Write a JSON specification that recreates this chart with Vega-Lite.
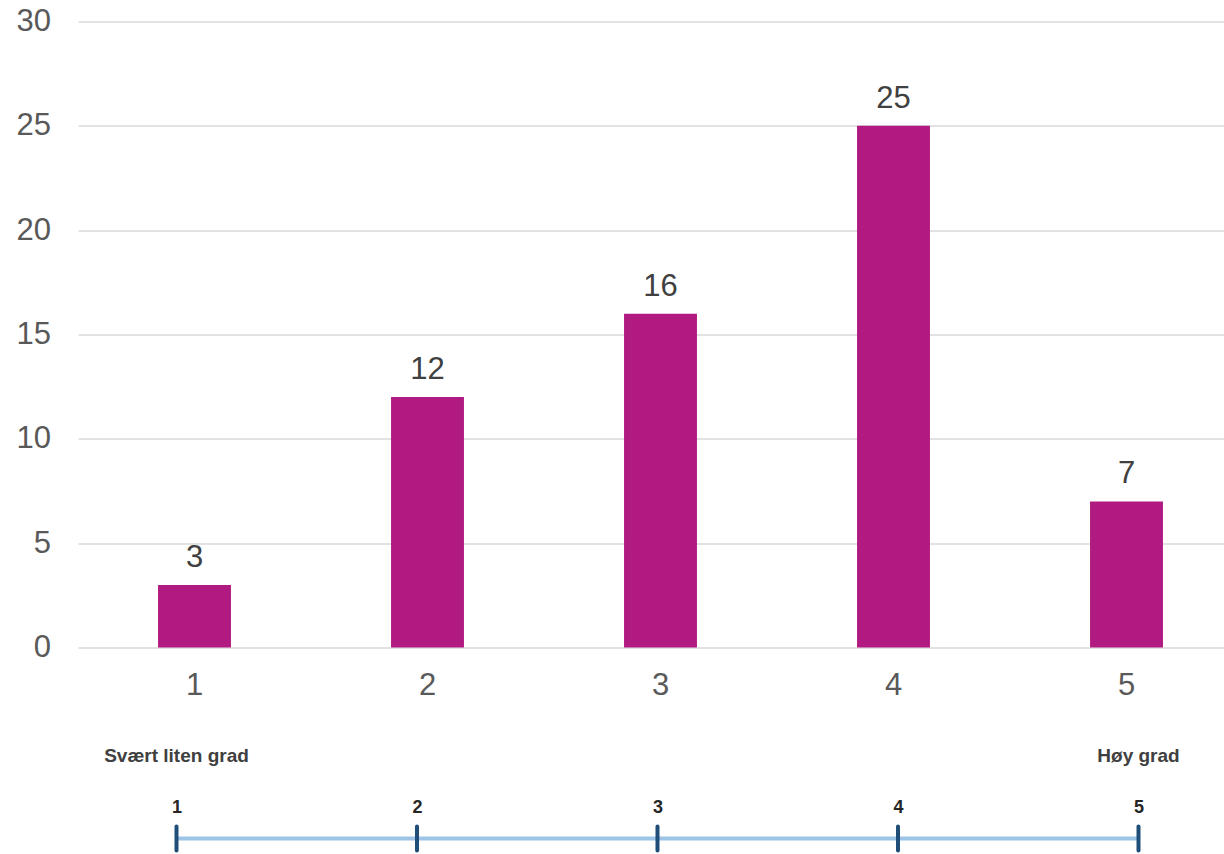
{
  "$schema": "https://vega.github.io/schema/vega-lite/v6.json",
  "padding": {"left": 16, "top": 5.5, "right": 0, "bottom": 0},
  "bounds": "flush",
  "spacing": 98,
  "config": {"view": {"stroke": null}, "font": "Liberation Sans"},
  "datasets": {
    "counts": [
      {"score": 1, "count": 3},
      {"score": 2, "count": 12},
      {"score": 3, "count": 16},
      {"score": 4, "count": 25},
      {"score": 5, "count": 7}
    ],
    "scale": [
      {"v": 1, "end": "Svært liten grad"},
      {"v": 2, "end": ""},
      {"v": 3, "end": ""},
      {"v": 4, "end": ""},
      {"v": 5, "end": "Høy grad"}
    ]
  },
  "vconcat": [
    {
      "width": 1146,
      "height": 626,
      "data": {"name": "counts"},
      "encoding": {
        "x": {
          "field": "score",
          "type": "ordinal",
          "scale": {"type": "band", "range": [0, 1165], "paddingInner": 0.687, "paddingOuter": 0.3435},
          "axis": {"title": null, "labelAngle": 0, "labelFontSize": 31, "labelColor": "#595959", "ticks": false, "tickSize": 0, "domain": false, "labelPadding": 23}
        },
        "y": {
          "field": "count",
          "type": "quantitative",
          "scale": {"domain": [0, 30], "nice": false},
          "axis": {"title": null, "values": [0, 5, 10, 15, 20, 25, 30], "labelFontSize": 31, "labelColor": "#595959", "ticks": false, "tickSize": 0, "domain": false, "labelPadding": 27.5, "gridColor": "#D9D9D9", "gridWidth": 1.5}
        }
      },
      "layer": [
        {"mark": {"type": "bar", "color": "#B11B81"}},
        {
          "mark": {"type": "text", "baseline": "alphabetic", "dy": -18, "fontSize": 31, "color": "#404040"},
          "encoding": {"text": {"field": "count", "type": "quantitative"}}
        }
      ]
    },
    {
      "spacing": 59,
      "bounds": "flush",
      "vconcat": [
        {
          "width": 1146,
          "height": 20,
          "data": {"name": "scale"},
          "mark": {"type": "text", "fontSize": 19, "fontWeight": "bold", "color": "#404040", "baseline": "middle"},
          "encoding": {
            "x": {"field": "v", "type": "quantitative", "scale": {"domain": [1, 5], "range": [98.5, 1060.5], "nice": false, "zero": false}, "axis": null},
            "text": {"field": "end", "type": "nominal"}
          }
        },
        {
          "width": 1146,
          "height": 28,
          "data": {"name": "scale"},
          "encoding": {
            "x": {
              "field": "v",
              "type": "quantitative",
              "scale": {"domain": [1, 5], "range": [98.5, 1060.5], "nice": false, "zero": false},
              "axis": {"orient": "top", "values": [1, 2, 3, 4, 5], "format": "d", "title": null, "labelFontSize": 18, "labelFontWeight": "bold", "labelColor": "#262626", "labelFlush": false, "labelOverlap": false, "ticks": false, "tickSize": 0, "domain": false, "grid": false, "labelPadding": 8.5}
            }
          },
          "layer": [
            {
              "mark": {"type": "rule", "color": "#9DC3E6", "strokeWidth": 4, "opacity": 1},
              "encoding": {
                "x": {"aggregate": "min", "field": "v", "type": "quantitative"},
                "x2": {"aggregate": "max", "field": "v"}
              }
            },
            {"mark": {"type": "tick", "color": "#1F4E79", "thickness": 4, "size": 28, "orient": "vertical", "opacity": 1, "cornerRadius": 2}}
          ]
        }
      ]
    }
  ]
}
